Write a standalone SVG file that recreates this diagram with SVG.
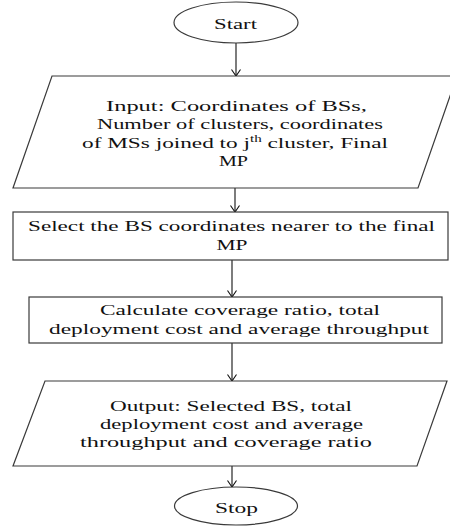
<svg xmlns="http://www.w3.org/2000/svg" width="450" height="526" viewBox="0 0 450 526">
  <style>
    .shape { fill: #ffffff; stroke: #3a3a3a; stroke-width: 1.2; }
    .edge { fill: none; stroke: #111111; stroke-width: 1.1; }
    .label { font-family: "Liberation Serif", "Times New Roman", serif; font-size: 15.5px; fill: #111111; text-anchor: middle; }
    .sup { font-size: 10px; }
  </style>
  <defs>
    <marker id="arrow" markerUnits="userSpaceOnUse" markerWidth="14" markerHeight="14" refX="0" refY="0" orient="auto" overflow="visible">
      <path d="M-6.5,-4.5 L0,0 L-6.5,4.5" fill="none" stroke="#111111" stroke-width="1.1"/>
    </marker>
  </defs>

  <rect x="0" y="0" width="450" height="526" fill="#ffffff"/>

  <!-- connectors -->
  <g id="connectors">
    <line class="edge" x1="236" y1="43" x2="236" y2="76" marker-end="url(#arrow)"/>
    <line class="edge" x1="235" y1="188" x2="235" y2="212" marker-end="url(#arrow)"/>
    <line class="edge" x1="232" y1="260" x2="232" y2="297" marker-end="url(#arrow)"/>
    <line class="edge" x1="232" y1="343" x2="232" y2="381" marker-end="url(#arrow)"/>
    <line class="edge" x1="232" y1="466" x2="232" y2="487" marker-end="url(#arrow)"/>
  </g>

  <!-- start terminal -->
  <g id="start">
    <ellipse class="shape" cx="236" cy="22.5" rx="62" ry="20.5"/>
    <text class="label" x="235.5" y="29" textLength="43" lengthAdjust="spacingAndGlyphs">Start</text>
  </g>

  <!-- input data -->
  <g id="input">
    <polygon class="shape" points="52,76 457,76 418,188 13,188"/>
    <text class="label" x="236.5" y="111" textLength="261" lengthAdjust="spacingAndGlyphs">Input:  Coordinates of  BSs,</text>
    <text class="label" x="240" y="129" textLength="286" lengthAdjust="spacingAndGlyphs">Number of clusters, coordinates</text>
    <text class="label" x="235" y="148" textLength="306" lengthAdjust="spacingAndGlyphs">of MSs joined to j<tspan class="sup" dy="-6">th</tspan><tspan dy="6"> cluster, Final</tspan></text>
    <text class="label" x="233.5" y="166" textLength="29" lengthAdjust="spacingAndGlyphs">MP</text>
  </g>

  <!-- select base station -->
  <g id="select">
    <rect class="shape" x="13" y="212" width="435" height="48"/>
    <text class="label" x="231.5" y="231" textLength="407" lengthAdjust="spacingAndGlyphs">Select the BS coordinates nearer to the final</text>
    <text class="label" x="232" y="250" textLength="31" lengthAdjust="spacingAndGlyphs">MP</text>
  </g>

  <!-- calculation step -->
  <g id="calculate">
    <rect class="shape" x="29" y="297" width="413" height="46"/>
    <text class="label" x="240" y="315" textLength="280" lengthAdjust="spacingAndGlyphs">Calculate coverage ratio, total</text>
    <text class="label" x="239" y="334" textLength="380" lengthAdjust="spacingAndGlyphs">deployment cost and average throughput</text>
  </g>

  <!-- output data -->
  <g id="output">
    <polygon class="shape" points="45,381 447,381 417,466 13,466"/>
    <text class="label" x="231" y="411" textLength="242" lengthAdjust="spacingAndGlyphs">Output: Selected BS, total</text>
    <text class="label" x="231.5" y="429" textLength="263" lengthAdjust="spacingAndGlyphs">deployment cost and average</text>
    <text class="label" x="226" y="447" textLength="292" lengthAdjust="spacingAndGlyphs">throughput and  coverage ratio</text>
  </g>

  <!-- stop terminal -->
  <g id="stop">
    <ellipse class="shape" cx="236" cy="506" rx="61.5" ry="19"/>
    <text class="label" x="236.5" y="513" textLength="43" lengthAdjust="spacingAndGlyphs">Stop</text>
  </g>
</svg>
